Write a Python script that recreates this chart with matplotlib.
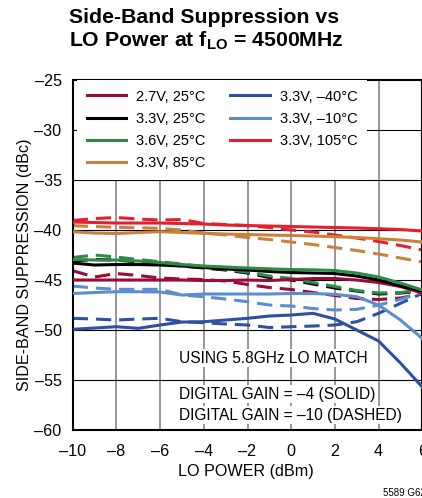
import matplotlib
matplotlib.use("Agg")
import matplotlib.pyplot as plt

plt.rcParams['font.family'] = ['Liberation Sans', 'DejaVu Sans']

# LO power sweep (dBm)
lo_power = [-10, -9, -8, -7, -6, -5, -4, -3, -2, -1, 0, 1, 2, 3, 4, 5, 6]

# side-band suppression (dBc), digital gain = -4 (solid)
sbs_27v_25c = [-45.0, -45.0, -45.0, -45.0, -45.0, -45.0, -45.05, -45.05, -45.0, -45.05,
               -44.95, -44.85, -44.85, -45.0, -45.25, -45.65, -46.3]
sbs_33v_25c = [-43.3, -43.5, -43.45, -43.45, -43.5, -43.6, -43.75, -43.9, -44.0, -44.15,
               -44.25, -44.3, -44.35, -44.6, -45.0, -45.6, -46.1]
sbs_36v_25c = [-42.95, -43.0, -43.0, -43.1, -43.25, -43.45, -43.6, -43.7, -43.8, -43.88,
               -43.95, -43.98, -44.05, -44.3, -44.7, -45.3, -46.0]
sbs_33v_85c = [-40.17, -40.3, -40.35, -40.25, -40.17, -40.25, -40.33, -40.4, -40.45, -40.5,
               -40.55, -40.6, -40.67, -40.75, -40.87, -41.0, -41.2]
sbs_33v_m40c = [-49.93, -49.8, -49.67, -49.83, -49.5, -49.2, -49.17, -49.0, -48.83, -48.6,
                -48.5, -48.33, -48.9, -50.0, -51.1, -53.3, -55.7]
sbs_33v_m10c = [-46.35, -46.25, -46.17, -46.17, -46.2, -46.5, -46.4, -46.4, -46.4, -46.4,
                -46.35, -46.35, -46.43, -46.67, -47.5, -49.0, -50.85]
sbs_33v_105c = [-39.2, -39.25, -39.3, -39.3, -39.3, -39.35, -39.4, -39.5, -39.55, -39.6,
                -39.65, -39.7, -39.75, -39.8, -39.87, -39.95, -40.1]

# digital gain = -10 (dashed)
sbs_27v_25c_d = [-44.07, -44.7, -44.35, -44.55, -44.8, -44.9, -44.95, -45.1, -45.45, -45.75,
                 -45.95, -46.25, -46.55, -46.85, -46.95, -46.8, -46.35]
sbs_33v_25c_d = [-43.1, -42.95, -43.0, -43.2, -43.35, -43.6, -43.8, -44.0, -44.3, -44.75,
                 -45.0, -45.4, -45.8, -46.1, -46.4, -46.3, -46.1]
sbs_36v_25c_d = [-42.75, -42.5, -42.7, -42.95, -43.17, -43.4, -43.67, -43.95, -44.2, -44.6,
                 -44.85, -45.25, -45.65, -46.05, -46.3, -46.25, -46.0]
sbs_33v_85c_d = [-39.57, -39.65, -39.73, -39.78, -39.83, -40.0, -40.3, -40.5, -40.75, -40.95,
                 -41.2, -41.45, -41.75, -42.05, -42.4, -42.8, -43.2]
sbs_33v_m40c_d = [-48.83, -48.9, -49.0, -48.9, -48.83, -49.17, -49.27, -49.4, -49.5, -49.75,
                  -49.67, -49.6, -49.5, -49.17, -48.33, -47.33, -46.33]
sbs_33v_m10c_d = [-45.6, -45.8, -45.93, -45.93, -45.93, -46.5, -46.67, -46.9, -47.17, -47.5,
                  -47.6, -47.85, -48.0, -47.93, -47.5, -46.93, -46.2]
sbs_33v_105c_d = [-39.05, -38.85, -38.75, -38.9, -39.0, -38.95, -39.35, -39.45, -39.55, -39.75,
                  -40.0, -40.2, -40.5, -40.8, -41.15, -41.55, -42.0]

labels = ['2.7V, 25°C', '3.3V, 25°C', '3.6V, 25°C', '3.3V, 85°C',
          '3.3V, –40°C', '3.3V, –10°C', '3.3V, 105°C']
colors = ['#9c0a35', '#000000', '#2e8a47', '#c9823e', '#2f4fa5', '#5b8dd0', '#e3202f']
solid = [sbs_27v_25c, sbs_33v_25c, sbs_36v_25c, sbs_33v_85c,
         sbs_33v_m40c, sbs_33v_m10c, sbs_33v_105c]
dashed = [sbs_27v_25c_d, sbs_33v_25c_d, sbs_36v_25c_d, sbs_33v_85c_d,
          sbs_33v_m40c_d, sbs_33v_m10c_d, sbs_33v_105c_d]

xticks = [-10, -8, -6, -4, -2, 0, 2, 4, 6]
xtick_labels = ['–10', '–8', '–6', '–4', '–2', '0', '2', '4', '6']
yticks = [-60, -55, -50, -45, -40, -35, -30, -25]
ytick_labels = ['–60', '–55', '–50', '–45', '–40', '–35', '–30', '–25']

fig = plt.figure(figsize=(4.22, 4.98), dpi=100)
ax = fig.add_axes([0.1723, 0.1365, 0.8284, 0.7028])

# grid: grey verticals, black horizontals
for xv in xticks[1:-1]:
    ax.axvline(xv, color='#7a7a7a', lw=1.1, zorder=1)
for yv in yticks[1:-1]:
    ax.axhline(yv, color='black', lw=0.8, zorder=1)

for ys, c in zip(dashed, colors):
    ax.plot(lo_power, ys, color=c, lw=2.2, dashes=(5, 2.6), zorder=2)
for ys, c, lab in zip(solid, colors, labels):
    ax.plot(lo_power, ys, color=c, lw=2.2, label=lab, zorder=3)

ax.set_xlim(-10, 6)
ax.set_ylim(-60, -25)
ax.set_xticks(xticks)
ax.set_xticklabels(xtick_labels)
ax.set_yticks(yticks)
ax.set_yticklabels(ytick_labels)
ax.tick_params(length=0, labelsize=11.6, pad=8)
ax.tick_params(axis='x', pad=10)
for s in ax.spines.values():
    s.set_linewidth(1.5)

leg = ax.legend(ncol=2, loc='upper left', bbox_to_anchor=(0.013, 1.0),
                borderaxespad=0, frameon=True, fancybox=False, fontsize=10.5,
                handlelength=2.7, handletextpad=0.7, columnspacing=1.7,
                labelspacing=0.57, borderpad=0.65)
leg.get_frame().set_edgecolor('none')
leg.get_frame().set_facecolor('white')
leg.get_frame().set_alpha(1)
leg.set_zorder(5)

box = dict(facecolor='white', edgecolor='none', pad=1)
ax.text(-5.12, -52.8, 'USING 5.8GHz LO MATCH', fontsize=11.2, va='center', bbox=box, zorder=6)
ax.text(-5.12, -56.4, 'DIGITAL GAIN = –4 (SOLID)', fontsize=11.2, va='center', bbox=box, zorder=6)
ax.text(-5.12, -58.5, 'DIGITAL GAIN = –10 (DASHED)', fontsize=11.2, va='center', bbox=box, zorder=6)

fig.text(69 / 422, 1 - 23.3 / 498, 'Side-Band Suppression vs', fontsize=15.3,
         fontweight='bold', va='baseline')
fig.text(69 / 422, 1 - 46.7 / 498, r'LO Power at f$_\mathregular{LO}$ = 4500MHz', fontsize=15.3,
         fontweight='bold', va='baseline')

fig.text(25 / 422, 1 - 265 / 498, 'SIDE-BAND SUPPRESSION (dBc)', fontsize=11.6,
         rotation=90, ha='center', va='center')
fig.text(246 / 422, 1 - 471 / 498, 'LO POWER (dBm)', fontsize=11.6, ha='center', va='center')
fig.text(383 / 422, 1 - 493 / 498, '5589 G62', fontsize=7, va='center')

fig.savefig('out.png', dpi=100)
plt.close(fig)
